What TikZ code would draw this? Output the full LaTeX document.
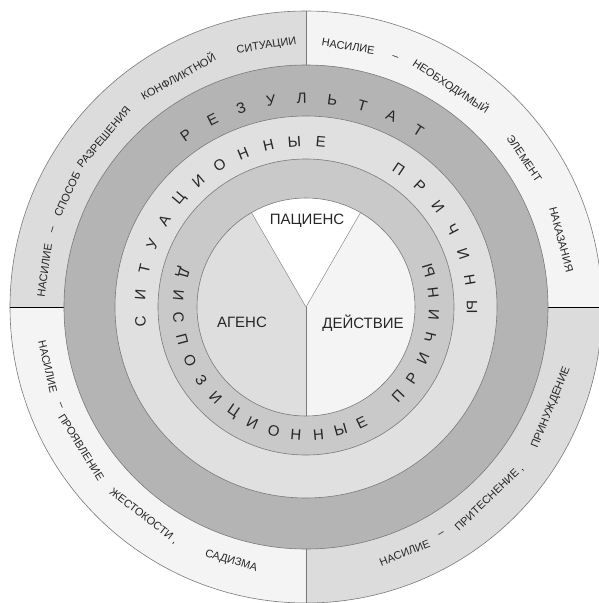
\documentclass[tikz,border=0pt]{standalone}
\usepackage{fontspec}
\setmainfont{Liberation Sans}
\definecolor{outerdark}{HTML}{DCDCDC}
\definecolor{outerpale}{HTML}{F3F4F3}
\definecolor{resring}{HTML}{B4B4B4}
\definecolor{sitring}{HTML}{E0E0E0}
\definecolor{dispring}{HTML}{C9C9C9}
\definecolor{agensfill}{HTML}{DEDEDE}
\definecolor{actfill}{HTML}{F3F4F3}
\definecolor{rimline}{HTML}{7A7A7A}

\begin{document}
\begin{tikzpicture}
            [x=1pt, y=1pt,
            rim/.style={draw=rimline, line width=0.6pt},
            word/.style={font=\fontsize{11}{13}\selectfont, inner sep=0pt, text=black!85},
            letter/.style={font=\fontsize{15}{18}\selectfont, inner sep=0pt, text=black!85},
            role/.style={font=\fontsize{15}{18}\selectfont, inner sep=1pt, text=black!85}]

            \useasboundingbox (-306,-296) rectangle (293,307);

            % outer ring in four quarters
            \fill[outerpale] (0,0) -- (0:296) arc[start angle=0, end angle=90, radius=296] -- cycle;
            \fill[outerdark] (0,0) -- (90:296) arc[start angle=90, end angle=180, radius=296] -- cycle;
            \fill[outerpale] (0,0) -- (180:296) arc[start angle=180, end angle=270, radius=296] -- cycle;
            \fill[outerdark] (0,0) -- (270:296) arc[start angle=270, end angle=360, radius=296] -- cycle;
            \draw[rim] (0,0) circle (296);
            \draw[rimline] (90:242) -- (90:296);
            \draw[rimline] (270:242) -- (270:296);
            \draw[black] (180:242) -- (180:296);
            \draw[black] (0:242) -- (0:296);

            % inner rings
            \filldraw[rim, fill=resring] (0,0) circle (242);
            \filldraw[rim, fill=sitring] (0,0) circle (191);
            \filldraw[rim, fill=dispring] (0,0) circle (148);

            % core split in three
            \fill[agensfill] (0,0) -- (120:109) arc[start angle=120, end angle=270, radius=109] -- cycle;
            \fill[actfill] (0,0) -- (270:109) arc[start angle=270, end angle=420, radius=109] -- cycle;
            \fill[white] (0,0) -- (60:109) arc[start angle=60, end angle=120, radius=109] -- cycle;
            \draw[rim] (0,0) circle (109);
            \draw[rimline] (120:109) -- (0,0) -- (60:109);
            \draw[rimline] (0,0) -- (270:109);

            \node[role] (agens) at (-64,-15) {АГЕНС};
            \node[role] (act) at (57,-16) {ДЕЙСТВИЕ};
            \node[role] (patiens) at (1,86) {ПАЦИЕНС};

            % spaced capitals along the rings
            \foreach \ch [count=\i from 0, evaluate=\i as \a using 125-8.45*\i] in {Р,Е,З,У,Л,Ь,Т,А,Т}
                \node[letter, rotate=\a-90] (res\i) at (\a:209) {\ch};
            \foreach \ch [count=\i from 0, evaluate=\i as \a using 185-9.1*\i] in {С,И,Т,У,А,Ц,И,О,Н,Н,Ы,Е}
                \node[letter, rotate=\a-90] (sit\i) at (\a:166) {\ch};
            \foreach \ch [count=\i from 0, evaluate=\i as \a using 56-9.33*\i] in {П,Р,И,Ч,И,Н,Ы}
                \node[letter, rotate=\a-90] (sitc\i) at (\a:166) {\ch};
            \foreach \ch [count=\i from 0, evaluate=\i as \a using 164.5+10.1*\i] in {Д,И,С,П,О,З,И,Ц,И,О,Н,Н,Ы,Е}
                \node[letter, rotate=\a+90] (disp\i) at (\a:128) {\ch};
            \foreach \ch [count=\i from 0, evaluate=\i as \a using 316+10.1*\i] in {П,Р,И,Ч,И,Н,Ы}
                \node[letter, rotate=\a+90] (dispc\i) at (\a:128) {\ch};

            % words of the outer ring
            \foreach \a/\w [count=\i] in {172/НАСИЛИЕ, 163/–, 154.7/СПОСОБ, 140/РАЗРЕШЕНИЯ,
                    119/КОНФЛИКТНОЙ, 98.6/СИТУАЦИИ, 80.8/НАСИЛИЕ, 70.3/–,
                    56.7/НЕОБХОДИМЫЙ, 34.2/ЭЛЕМЕНТ, 14.8/НАКАЗАНИЯ}
                \node[word, rotate=\a-90] (top\i) at (\a:264) {\w};
            \foreach \a/\w [count=\i] in {193/НАСИЛИЕ, 201.9/–, 212/ПРОЯВЛЕНИЕ, {232.2/ЖЕСТОКОСТИ ,},
                    253.6/САДИЗМА, 291.9/НАСИЛИЕ, 300.8/–, {313.8/ПРИТЕСНЕНИЕ ,},
                    337.7/ПРИНУЖДЕНИЕ}
                \node[word, rotate=\a+90] (bot\i) at (\a:265) {\w};

          \end{tikzpicture}
\end{document}
